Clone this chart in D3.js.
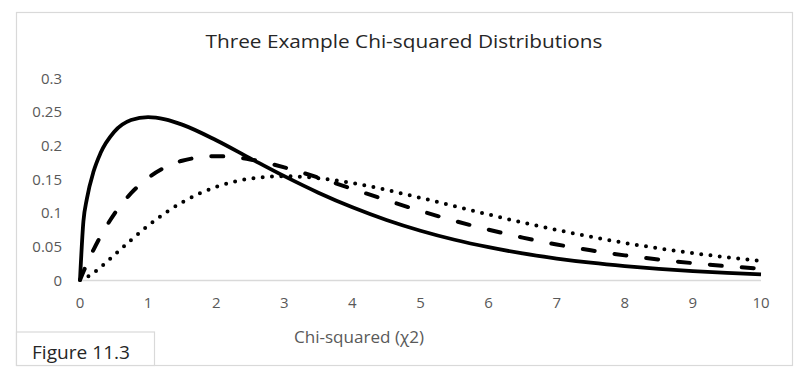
<!DOCTYPE html>
<html>
<head>
<meta charset="utf-8">
<script src="https://cdn.jsdelivr.net/npm/d3@7"></script>
<style>
  body { margin: 0; background: #fff; }
  text { font-family: "Open Sans", "Noto Sans", sans-serif; }
</style>
</head>
<body>
<svg id="chart" width="812" height="385"></svg>
<script>
// chi-squared values (df 3 solid, df 4 dashed, df 5 dotted)
const xs = [0, 0.05, 0.1, 0.2, 0.3, 0.5, 0.75, 1, 1.25, 1.5, 2, 2.5, 3, 3.5, 4, 4.5, 5, 5.5, 6, 6.5, 7, 7.5, 8, 8.5, 9, 9.5, 10];
const df3 = [0, 0.0870, 0.1200, 0.1614, 0.1881, 0.2197, 0.2375, 0.2420, 0.2387, 0.2308, 0.2076, 0.1807, 0.1542, 0.1297, 0.1080, 0.0892, 0.0732, 0.0598, 0.0487, 0.0394, 0.0319, 0.0257, 0.0207, 0.0166, 0.0133, 0.0106, 0.0085];
const df4 = [0, 0.0122, 0.0238, 0.0452, 0.0646, 0.0974, 0.1289, 0.1516, 0.1673, 0.1771, 0.1839, 0.1791, 0.1673, 0.1520, 0.1353, 0.1186, 0.1026, 0.0879, 0.0747, 0.0630, 0.0528, 0.0441, 0.0366, 0.0303, 0.0250, 0.0205, 0.0168];
const df5 = [0, 0.0015, 0.0040, 0.0108, 0.0188, 0.0366, 0.0594, 0.0807, 0.0995, 0.1154, 0.1384, 0.1506, 0.1542, 0.1513, 0.1440, 0.1338, 0.1220, 0.1097, 0.0973, 0.0854, 0.0744, 0.0642, 0.0551, 0.0470, 0.0399, 0.0337, 0.0283];
const xTicks = [0, 1, 2, 3, 4, 5, 6, 7, 8, 9, 10];
const yTicks = [0, 0.05, 0.1, 0.15, 0.2, 0.25, 0.3];

const svg = d3.select("#chart");

// outer chart border
svg.append("rect")
    .attr("x", 16.5).attr("y", 12.5)
    .attr("width", 776).attr("height", 353)
    .attr("fill", "#fff")
    .attr("stroke", "#d9d9d9")
    .attr("stroke-width", 1.2);

const x = d3.scaleLinear().domain([0, 10]).range([80, 761]);
const y = d3.scaleLinear().domain([0, 0.3]).range([280, 78]);

// title
svg.append("text")
    .attr("x", 404).attr("y", 48)
    .attr("text-anchor", "middle")
    .attr("font-size", "19px")
    .attr("fill", "#262626")
    .attr("textLength", 397)
    .attr("lengthAdjust", "spacingAndGlyphs")
    .text("Three Example Chi-squared Distributions");

// x axis line
svg.append("line")
    .attr("x1", x(0)).attr("x2", x(10))
    .attr("y1", y(0) + 0.5).attr("y2", y(0) + 0.5)
    .attr("stroke", "#d9d9d9")
    .attr("stroke-width", 1.5);

// tick labels
svg.append("g").selectAll("text")
    .data(xTicks)
    .join("text")
    .attr("x", d => x(d))
    .attr("y", 308)
    .attr("text-anchor", "middle")
    .attr("font-size", "15px")
    .attr("fill", "#595959")
    .text(d => d);

svg.append("g").selectAll("text")
    .data(yTicks)
    .join("text")
    .attr("x", 62)
    .attr("y", d => y(d) + 5.5)
    .attr("text-anchor", "end")
    .attr("font-size", "15px")
    .attr("fill", "#595959")
    .text(d => d);

// axis title
svg.append("text")
    .attr("x", 359).attr("y", 343)
    .attr("text-anchor", "middle")
    .attr("font-size", "16px")
    .attr("fill", "#595959")
    .attr("textLength", 130)
    .attr("lengthAdjust", "spacingAndGlyphs")
    .text("Chi-squared (χ2)");

// Figure label box
svg.append("rect")
    .attr("x", 16.5).attr("y", 332)
    .attr("width", 138).attr("height", 33.5)
    .attr("fill", "#fff")
    .attr("stroke", "#d9d9d9")
    .attr("stroke-width", 1.2);

svg.append("text")
    .attr("x", 32).attr("y", 359)
    .attr("font-size", "18px")
    .attr("fill", "#262626")
    .attr("textLength", 98)
    .attr("lengthAdjust", "spacingAndGlyphs")
    .text("Figure 11.3");

const line = vals => d3.line()
    .x((d, i) => x(xs[i]))
    .y(d => y(d))
    .curve(d3.curveMonotoneX)(vals);

svg.append("path")
    .attr("d", line(df5))
    .attr("fill", "none")
    .attr("stroke", "#000")
    .attr("stroke-width", 4)
    .attr("stroke-linecap", "round")
    .attr("stroke-dasharray", "0 9.3");

svg.append("path")
    .attr("d", line(df4))
    .attr("fill", "none")
    .attr("stroke", "#000")
    .attr("stroke-width", 4)
    .attr("stroke-linecap", "round")
    .attr("stroke-dasharray", "12 20");

svg.append("path")
    .attr("d", line(df3))
    .attr("fill", "none")
    .attr("stroke", "#000")
    .attr("stroke-width", 3.8);
</script>
</body>
</html>
